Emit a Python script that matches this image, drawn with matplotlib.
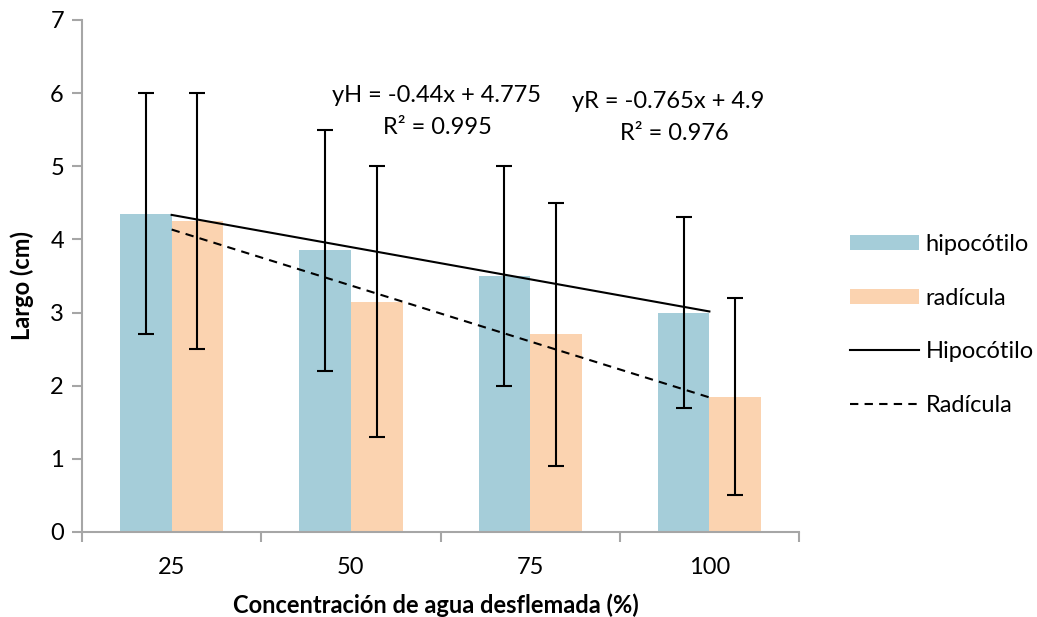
import matplotlib
matplotlib.use("Agg")
import matplotlib.pyplot as plt
import numpy as np
from matplotlib.patches import Patch
from matplotlib.lines import Line2D

plt.rcParams['font.family'] = ['Lato', 'DejaVu Sans']

categories = ["25", "50", "75", "100"]
hipocotilo = [4.35, 3.85, 3.5, 3.0]
hipocotilo_err = [1.65, 1.65, 1.5, 1.3]
radicula = [4.25, 3.15, 2.7, 1.85]
radicula_err = [1.75, 1.85, 1.8, 1.35]
slope_h, icpt_h = -0.44, 4.775
slope_r, icpt_r = -0.765, 4.9

c_blue = "#A5CDD9"
c_orange = "#FBD3B0"
c_axis = "#A6A6A6"

fig = plt.figure(figsize=(10.37, 6.17), dpi=100)
ax = fig.add_axes([0.0791, 0.1378, 0.6914, 0.8298])

x = np.arange(1, len(categories) + 1)
w = 0.288
ax.bar(x - w / 2, hipocotilo, width=w, color=c_blue, zorder=1)
ax.bar(x + w / 2, radicula, width=w, color=c_orange, zorder=1)
ax.errorbar(x - w / 2, hipocotilo, yerr=hipocotilo_err, fmt='none', ecolor='black',
            elinewidth=1.5, capsize=6, capthick=1.5, zorder=3)
ax.errorbar(x + w / 2, radicula, yerr=radicula_err, fmt='none', ecolor='black',
            elinewidth=1.5, capsize=6, capthick=1.5, zorder=3)

xt = np.array([x[0], x[-1]])
ax.plot(xt, slope_h * xt + icpt_h, color='black', lw=1.5, zorder=4)
ax.plot(xt, slope_r * xt + icpt_r, color='black', lw=1.5, ls=(0, (4, 3)), zorder=4)

ax.set_xlim(0.5, len(categories) + 0.5)
ax.set_ylim(0, 7)
ax.set_yticks(range(0, 8))
ax.set_xticks(x)
ax.set_xticklabels(categories)
ax.set_xticks(np.arange(0.5, len(categories) + 1, 1), minor=True)
ax.tick_params(axis='x', which='major', length=0, labelsize=17, pad=18)
ax.tick_params(axis='x', which='minor', length=7, width=1.5, color=c_axis, direction='out')
ax.tick_params(axis='y', length=7, width=1.5, color=c_axis, labelsize=17, pad=6)
for s in ['top', 'right']:
    ax.spines[s].set_visible(False)
for s in ['left', 'bottom']:
    ax.spines[s].set_color(c_axis)
    ax.spines[s].set_linewidth(1.5)

fig.text(22 / 1037, 1 - 285 / 617, "Largo (cm)", fontsize=17, fontweight='bold',
         rotation=90, ha='center', va='center')
fig.text(436 / 1037, 1 - 605 / 617, "Concentración de agua desflemada (%)", fontsize=17,
         fontweight='bold', ha='center', va='center')

fig.text(437 / 1037, 1 - 96 / 617, "yH = -0.44x + 4.775", fontsize=17, ha='center', va='center')
fig.text(437 / 1037, 1 - 127 / 617, "R² = 0.995", fontsize=17, ha='center', va='center')
fig.text(668 / 1037, 1 - 102 / 617, "yR = -0.765x + 4.9", fontsize=17, ha='center', va='center')
fig.text(674 / 1037, 1 - 133 / 617, "R² = 0.976", fontsize=17, ha='center', va='center')

handles = [Patch(facecolor=c_blue, edgecolor='none'),
           Patch(facecolor=c_orange, edgecolor='none'),
           Line2D([], [], color='black', lw=1.5),
           Line2D([], [], color='black', lw=1.5, ls=(0, (4, 3)))]
labels = ["hipocótilo", "radícula", "Hipocótilo", "Radícula"]
fig.legend(handles, labels, loc='center left', bbox_to_anchor=(829 / 1037, 1 - 325 / 617),
           frameon=False, fontsize=17, handlelength=2.9, handleheight=0.62,
           labelspacing=1.38, handletextpad=0.3)

fig.savefig("out.png", dpi=100)
